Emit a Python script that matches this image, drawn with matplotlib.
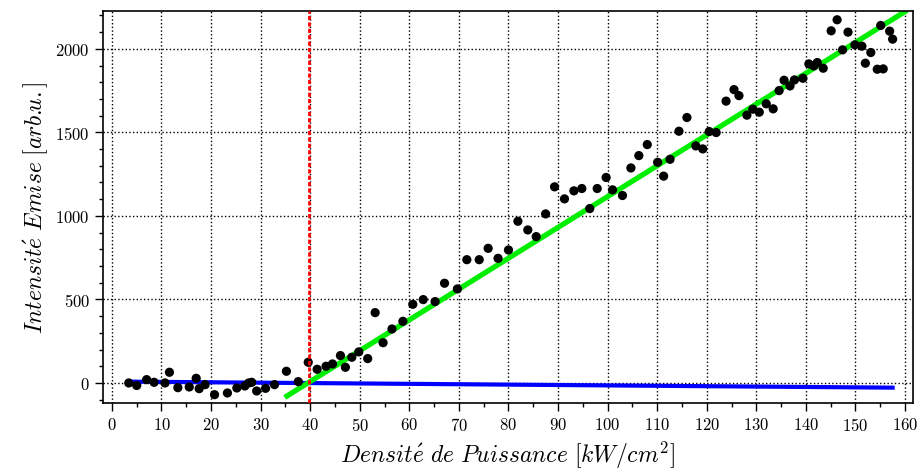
import matplotlib
matplotlib.use('Agg')
import matplotlib.pyplot as plt
from matplotlib.ticker import MultipleLocator

plt.rcParams['mathtext.fontset'] = 'cm'
plt.rcParams['font.family'] = 'serif'
plt.rcParams['font.serif'] = ['cmr10']
plt.rcParams['axes.formatter.use_mathtext'] = True

# Measured points: power density (kW/cm^2) vs emitted intensity (arb. u.)
density = [3.4, 5.0, 7.0, 8.5, 10.7, 11.6, 13.3, 15.6, 17.0, 17.6, 18.8, 20.7,
           23.3, 25.2, 26.8, 27.6, 28.2, 29.2, 31.0, 32.8, 35.2, 37.6, 39.6,
           41.4, 43.2, 44.5, 46.1, 47.1, 48.4, 49.8, 51.6, 53.1, 54.7, 56.5,
           58.7, 60.7, 62.8, 65.2, 67.1, 69.7, 71.6, 74.1, 75.9, 77.9, 80.0,
           81.9, 83.9, 85.6, 87.5, 89.3, 91.3, 93.2, 94.8, 96.4, 97.9, 99.7,
           101.0, 103.0, 104.7, 106.3, 108.0, 110.1, 111.3, 112.6, 114.4,
           116.0, 117.8, 119.2, 120.5, 121.9, 123.9, 125.5, 126.5, 128.1,
           129.3, 130.6, 132.0, 133.4, 134.6, 135.6, 136.8, 137.7, 139.4,
           140.6, 141.6, 142.3, 143.5, 145.1, 146.3, 147.4, 148.5, 149.9,
           151.3, 152.0, 153.1, 154.4, 155.1, 155.6, 156.9, 157.5]
intensity = [0, -15, 20, 4, 0, 64, -28, -24, 28, -34, -10, -70,
             -60, -30, -18, 0, 4, -48, -32, -10, 70, 8, 124,
             82, 100, 114, 164, 94, 154, 186, 146, 421, 241, 323,
             369, 471, 499, 487, 597, 563, 738, 738, 806, 746, 796,
             968, 916, 876, 1012, 1174, 1102, 1150, 1164, 1044, 1164, 1230,
             1156, 1122, 1287, 1361, 1427, 1321, 1238, 1339, 1507,
             1589, 1419, 1401, 1505, 1499, 1687, 1756, 1720, 1603,
             1639, 1621, 1671, 1641, 1750, 1812, 1778, 1814, 1824,
             1910, 1898, 1918, 1884, 2108, 2174, 1994, 2100, 2024,
             2016, 1914, 1978, 1878, 2140, 1880, 2106, 2058]

# Fits below and above threshold
low_fit_x = [3.3, 157.5]
low_fit_y = [8, -28]
high_fit_x = [35.3, 160]
high_fit_y = [-78, 2223]
threshold = 39.7

fig = plt.figure(figsize=(9.23, 4.77), dpi=100)
ax = fig.add_axes([0.1116, 0.153, 0.8775, 0.822])

ax.grid(True, which='major', color='black', linestyle=':', linewidth=1.0)
ax.set_axisbelow(True)

ax.scatter(density, intensity, s=44, c='black', edgecolors='none', zorder=3)
ax.plot(low_fit_x, low_fit_y, color='blue', linewidth=3, zorder=2)
ax.plot(high_fit_x, high_fit_y, color='#00ee00', linewidth=3.8, zorder=2)
ax.axvline(threshold, color='red', linestyle='--', linewidth=2,
           dashes=(1.5, 0.8), zorder=4)

ax.set_xlim(-1.8, 161.6)
ax.set_ylim(-120, 2227)
ax.xaxis.set_major_locator(MultipleLocator(10))
ax.xaxis.set_minor_locator(MultipleLocator(5))
ax.yaxis.set_major_locator(MultipleLocator(500))
ax.yaxis.set_minor_locator(MultipleLocator(100))
ax.tick_params(which='both', direction='out', labelsize=12)
ax.tick_params(which='major', length=6, width=1)
ax.tick_params(which='minor', length=3, width=1)
for sp in ax.spines.values():
    sp.set_linewidth(1.2)

ax.set_xlabel(r'$Densit\acute{e}\ de\ Puissance\ [kW/cm^2]$', fontsize=17)
ax.set_ylabel(r'$Intensit\acute{e}\ Emise\ [arb.\!\!u.]$', fontsize=17)

fig.savefig('out.png', dpi=100)
